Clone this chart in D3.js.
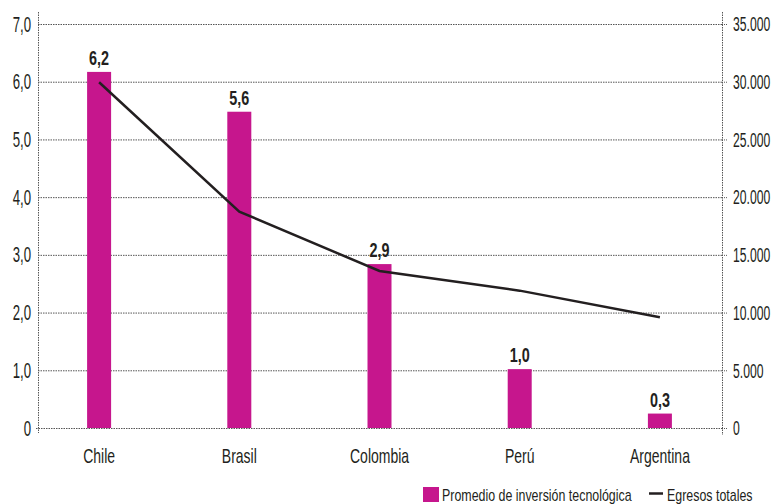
<!DOCTYPE html>
<html>
<head>
<meta charset="utf-8">
<script src="https://cdn.jsdelivr.net/npm/d3@7"></script>
<style>
  body { margin: 0; background: #fff; }
  text { font-family: "Liberation Sans", Arial, sans-serif; fill: #231f20; }
</style>
</head>
<body>
<div id="container"></div>
<script>
const paises = ["Chile", "Brasil", "Colombia", "Perú", "Argentina"];
const inversion = [6.17, 5.48, 2.84, 1.02, 0.25];
const etiquetas = ["6,2", "5,6", "2,9", "1,0", "0,3"];
const egresos = [29950, 18750, 13600, 11900, 9600];
const ticksIzq = [0, 1, 2, 3, 4, 5, 6, 7];
const ticksDer = [0, 5000, 10000, 15000, 20000, 25000, 30000, 35000];

const w = 779, h = 504;
const margin = {top: 24, right: 57, bottom: 76, left: 38};
const magenta = "#c6168d";

const svg = d3.select('#container')
              .append('svg')
              .attr('width', w)
              .attr('height', h);

// narrow font look: squeeze text horizontally around its anchor
function condense(sel, s, origin) {
  sel.style('transform-box', 'fill-box')
     .style('transform-origin', origin)
     .style('transform', `scaleX(${s})`);
}

// scales
const x = d3.scaleBand()
            .domain(paises)
            .range([29, 730])
            .padding(0);

const y = d3.scaleLinear()
            .domain([0, 7])
            .range([h - margin.bottom, margin.top]);

const y2 = d3.scaleLinear()
             .domain([0, 35000])
             .range([h - margin.bottom, margin.top]);

const fmtIzq = d => d === 0 ? "0" : d3.format('.1f')(d).replace('.', ',');
const fmtDer = d => d3.format(',')(d).replace(/,/g, '.');

// gridlines
svg.append('g')
   .selectAll('line')
   .data(ticksIzq).enter()
   .append('line')
   .attr('x1', d => d === 0 ? margin.left - 2 : margin.left)
   .attr('x2', w - margin.right)
   .attr('y1', d => y(d) + 0.5)
   .attr('y2', d => y(d) + 0.5)
   .attr('stroke', '#555')
   .attr('stroke-width', 1)
   .attr('stroke-dasharray', '1.5,1');

// axis lines (dotted)
svg.append('line')
   .attr('x1', margin.left + 0.5).attr('x2', margin.left + 0.5)
   .attr('y1', 12).attr('y2', h - margin.bottom + 5)
   .attr('stroke', '#555').attr('stroke-dasharray', '1.5,1');

svg.append('line')
   .attr('x1', w - margin.right + 0.5).attr('x2', w - margin.right + 0.5)
   .attr('y1', 12).attr('y2', h - margin.bottom + 7)
   .attr('stroke', '#555').attr('stroke-dasharray', '1.5,1');

// left axis labels
const yAxis = d3.axisLeft(y).tickValues(ticksIzq).tickFormat(fmtIzq).tickSize(0).tickPadding(7);
const gy = svg.append('g')
   .attr('transform', `translate(${margin.left},0)`)
   .call(yAxis);
gy.select('.domain').remove();
gy.selectAll('text').style('font-size', '22px').style('font-family', null).attr('fill', '#231f20')
  .call(condense, 0.6, 'right center');

// right axis labels
const y2Axis = d3.axisRight(y2).tickValues(ticksDer).tickFormat(fmtDer).tickSize(5).tickPadding(6);
const gy2 = svg.append('g')
   .attr('transform', `translate(${w - margin.right},0)`)
   .call(y2Axis);
gy2.select('.domain').remove();
gy2.selectAll('line').attr('stroke', '#555').attr('stroke-dasharray', '1,1');
gy2.selectAll('text').style('font-size', '21px').style('font-family', null).attr('fill', '#231f20')
  .call(condense, 0.58, 'left center');

// x labels
const xAxis = d3.axisBottom(x).tickSize(0).tickPadding(21);
const gx = svg.append('g')
   .attr('transform', `translate(0,${h - margin.bottom})`)
   .call(xAxis);
gx.select('.domain').remove();
gx.selectAll('text').style('font-size', '20px').style('font-family', null).attr('fill', '#231f20')
  .call(condense, 0.7, 'center');

// bars
const barW = 24;
svg.selectAll('rect.bar')
   .data(paises).enter()
   .append('rect')
   .attr('class', 'bar')
   .attr('x', d => x(d) + x.bandwidth() / 2 - barW / 2)
   .attr('width', barW)
   .attr('y', (d, i) => y(inversion[i]))
   .attr('height', (d, i) => y(0) - y(inversion[i]))
   .attr('fill', magenta);

// bar labels
svg.selectAll('text.lbl')
   .data(paises).enter()
   .append('text')
   .attr('class', 'lbl')
   .attr('x', d => x(d) + x.bandwidth() / 2)
   .attr('y', (d, i) => y(inversion[i]) - 7)
   .attr('text-anchor', 'middle')
   .style('font-size', '20px')
   .style('font-weight', 'bold')
   .text((d, i) => etiquetas[i])
   .call(condense, 0.72, 'center');

// line
const line = d3.line()
               .x((d, i) => x(paises[i]) + x.bandwidth() / 2)
               .y(d => y2(d));

svg.append('path')
   .datum(egresos)
   .attr('d', line)
   .attr('fill', 'none')
   .attr('stroke', '#231f20')
   .attr('stroke-width', 2.5);

// legend
const legend = svg.append('g').attr('transform', 'translate(423,487)');
legend.append('rect')
      .attr('width', 16).attr('height', 15)
      .attr('fill', magenta);
legend.append('text')
      .attr('x', 19).attr('y', 13.5)
      .style('font-size', '17px')
      .text("Promedio de inversión tecnológica")
      .call(condense, 0.73, 'left center');
legend.append('line')
      .attr('x1', 226).attr('x2', 240)
      .attr('y1', 6.5).attr('y2', 6.5)
      .attr('stroke', '#231f20').attr('stroke-width', 2.5);
legend.append('text')
      .attr('x', 244).attr('y', 13.5)
      .style('font-size', '17px')
      .text("Egresos totales")
      .call(condense, 0.73, 'left center');
</script>
</body>
</html>
